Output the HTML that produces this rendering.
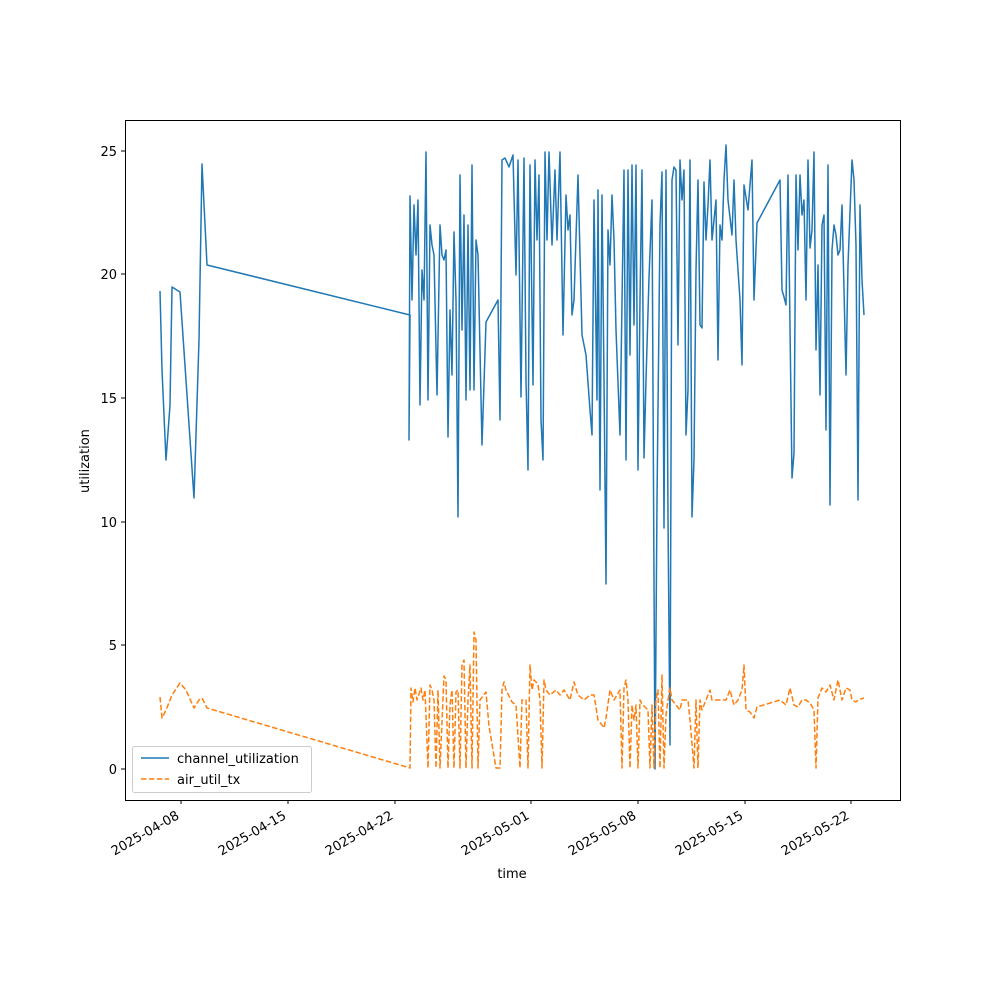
<!DOCTYPE html>
<html><head><meta charset="utf-8"><style>body{margin:0;background:#fff}svg{display:block}text{font-family:"DejaVu Sans","Liberation Sans",sans-serif;font-size:13px;fill:#000}</style></head><body>
<svg width="1000" height="1000" viewBox="0 0 1000 1000">
<rect x="125.5" y="120.5" width="775" height="680" fill="none" stroke="#000" stroke-width="1"/>
<g stroke="#000">
<line x1="125" y1="769" x2="121" y2="769"/><line x1="125" y1="645" x2="121" y2="645"/><line x1="125" y1="522" x2="121" y2="522"/><line x1="125" y1="398" x2="121" y2="398"/><line x1="125" y1="274" x2="121" y2="274"/><line x1="125" y1="151" x2="121" y2="151"/>
<line x1="181" y1="800" x2="181" y2="804"/><line x1="288" y1="800" x2="288" y2="804"/><line x1="395" y1="800" x2="395" y2="804"/><line x1="531" y1="800" x2="531" y2="804"/><line x1="638" y1="800" x2="638" y2="804"/><line x1="745" y1="800" x2="745" y2="804"/><line x1="851" y1="800" x2="851" y2="804"/>
</g>
<g text-anchor="end">
<text x="117" y="774">0</text><text x="117" y="650">5</text><text x="117" y="527">10</text><text x="117" y="403">15</text><text x="117" y="279">20</text><text x="117" y="156">25</text>
</g>
<g text-anchor="end">
<text transform="translate(180,818) rotate(-30)">2025-04-08</text>
<text transform="translate(287,818) rotate(-30)">2025-04-15</text>
<text transform="translate(394,818) rotate(-30)">2025-04-22</text>
<text transform="translate(530,818) rotate(-30)">2025-05-01</text>
<text transform="translate(637,818) rotate(-30)">2025-05-08</text>
<text transform="translate(744,818) rotate(-30)">2025-05-15</text>
<text transform="translate(850,818) rotate(-30)">2025-05-22</text>
</g>
<text x="512" y="878" text-anchor="middle">time</text>
<text transform="translate(89,461) rotate(-90)" text-anchor="middle">utilization</text>
<polyline fill="none" stroke="#1f77b4" stroke-width="1.5" stroke-linejoin="round" points="160,291 162,370 166,460 170,405 172,287 180,292 194,498 199,340 202,164 207,265 410,315 409,440 410,196 412,300 414,205 416,255 418,200 420,405 422,270 424,300 426,152 428,400 430,225 432,245 434,255 437,395 440,225 442,255 444,260 446,250 448,437 450,310 452,375 454,232 456,300 458,517 460,175 462,330 464,215 466,400 468,225 470,390 472,165 474,390 476,240 478,255 482,445 486,322 498,300 500,420 502,160 505,158 509,167 513,155 516,275 518,160 521,397 524,158 526,380 528,470 530,165 533,385 535,160 537,240 539,175 541,420 543,460 545,152 547,240 549,152 552,245 555,170 557,240 560,152 563,335 566,195 568,230 570,215 572,315 574,300 578,175 582,335 586,355 590,410 592,435 594,200 597,400 598,190 600,490 602,195 604,380 606,584 608,230 610,265 612,195 614,240 616,330 620,435 624,170 626,460 628,170 630,355 632,165 634,325 636,165 638,470 640,300 642,170 644,458 646,380 649,278 652,200 655,769 657,500 660,225 662,172 664,528 666,170 668,518 670,745 672,180 674,167 676,170 678,345 680,160 682,200 684,170 686,435 688,390 690,160 692,517 694,460 696,270 698,180 700,325 702,328 704,182 706,240 708,205 710,160 712,240 716,200 718,360 720,225 722,240 724,180 726,145 728,200 732,235 734,180 736,240 740,300 742,365 744,185 748,210 752,160 754,300 757,223 780,180 782,290 784,297 786,305 788,175 792,478 794,453 796,175 798,250 800,175 802,215 804,200 806,300 808,160 810,248 812,230 814,152 816,350 818,265 820,395 822,225 824,215 826,430 828,165 830,505 832,250 834,225 836,235 838,255 840,250 842,205 846,375 848,265 852,160 854,180 856,245 858,500 860,205 862,280 864,315"/>
<polyline fill="none" stroke="#ff7f0e" stroke-width="1.5" stroke-dasharray="5.5,2.4" stroke-linejoin="round" points="160,697 162,718 166,710 172,695 180,683 186,690 194,708 199,700 202,698 207,708 410,768 411,688 413,702 415,688 417,700 421,688 423,700 425,690 428,768 430,685 432,690 434,700 436,768 438,690 440,768 444,676 446,680 448,768 450,705 452,690 454,768 456,692 458,690 460,768 462,665 464,660 466,768 468,700 470,665 472,768 474,632 476,640 478,768 480,700 486,692 489,726 496,768 500,768 502,690 504,682 506,690 512,702 516,705 520,768 522,700 526,700 528,768 530,665 532,690 534,680 538,684 540,700 542,768 544,680 546,690 550,695 556,690 560,695 564,690 570,700 574,682 578,695 584,700 590,695 594,695 598,720 602,725 604,728 606,718 610,690 614,700 620,690 622,768 624,688 626,680 628,700 630,768 632,705 634,720 636,705 638,768 640,700 642,704 648,710 650,768 652,705 654,768 656,700 658,690 660,768 662,675 664,768 666,715 668,700 670,688 672,700 676,705 680,710 682,700 688,700 690,720 694,768 696,700 698,768 700,700 702,710 706,700 710,690 712,700 716,700 720,700 726,700 730,690 734,705 738,700 742,690 744,665 746,710 750,712 754,718 757,707 780,700 786,705 790,688 794,705 798,707 802,700 806,700 810,703 814,710 816,768 818,698 822,688 826,692 830,685 834,700 838,680 842,700 846,688 850,690 852,700 856,702 858,700 864,698"/>
<rect x="132.5" y="746.5" width="179" height="46" rx="2" fill="#fff" fill-opacity="0.8" stroke="#ccc"/>
<line x1="141" y1="758" x2="169" y2="758" stroke="#1f77b4" stroke-width="1.5"/>
<line x1="141" y1="779" x2="169" y2="779" stroke="#ff7f0e" stroke-width="1.5" stroke-dasharray="5.5,2.4"/>
<text x="177" y="763">channel_utilization</text>
<text x="177" y="784">air_util_tx</text>
</svg>
</body></html>
